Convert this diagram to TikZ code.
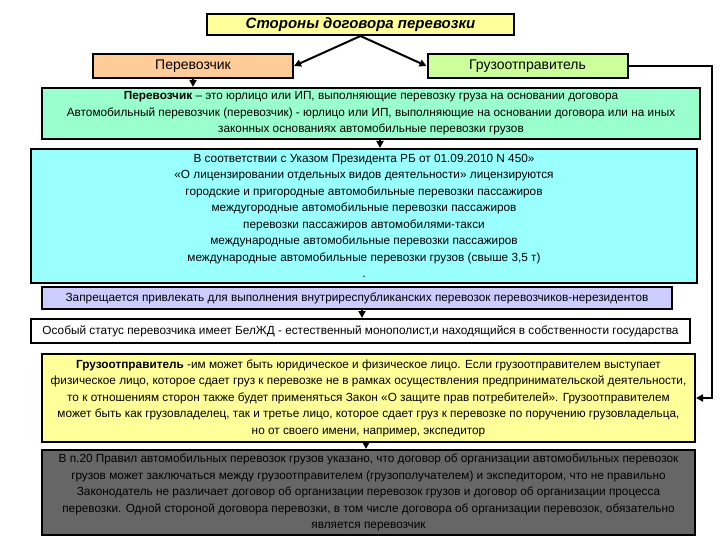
\documentclass[tikz,border=0pt]{standalone}
\usepackage{fontspec}
\setmainfont{Liberation Sans}
\usepackage{xcolor}
\usetikzlibrary{arrows.meta,positioning}
\definecolor{TitleYellow}{RGB}{255,255,153}
\definecolor{CarrierPeach}{RGB}{255,204,153}
\definecolor{ShipperGreen}{RGB}{204,255,153}
\definecolor{DefAqua}{RGB}{153,255,204}
\definecolor{LicCyan}{RGB}{153,255,255}
\definecolor{BanLilac}{RGB}{204,204,255}
\definecolor{NoteGray}{RGB}{102,102,102}

\begin{document}
\begin{tikzpicture}[x=1pt, y=-1pt,
  box/.style  ={rectangle, draw=black, line width=2pt, align=center, text=black,
                inner sep=0pt, font=\fontsize{11.8}{16.5}\selectfont},
  head/.style ={box, fill=TitleYellow, font=\fontsize{15}{17}\selectfont\bfseries\itshape},
  party/.style={box, minimum width=200pt, minimum height=24pt,
                font=\fontsize{14}{16}\selectfont},
  arr/.style  ={-{Triangle[length=7pt,width=7pt]}, line width=2pt, black}
]
\useasboundingbox (0,0) rectangle (720,540);

\node[head, minimum width=307pt, minimum height=21pt] (title) at (360.5,24.5)
     {Стороны договора перевозки};
\node[party, fill=CarrierPeach] (carrier) at (193,66) {Перевозчик};
\node[party, fill=ShipperGreen] (shipper) at (527.5,66) {Грузоотправитель};

\node[box, fill=DefAqua, minimum width=658pt, minimum height=51pt] (def) at (371,113.5)
     {\textbf{Перевозчик} – это юрлицо или ИП, выполняющие перевозку груза на основании договора\\
      Автомобильный перевозчик (перевозчик) - юрлицо или ИП, выполняющие на основании договора или на иных\\
      законных основаниях автомобильные перевозки грузов};

\node[box, fill=LicCyan, minimum width=666pt, minimum height=134pt] (lic) at (364,216)
     {В соответствии с Указом Президента РБ от 01.09.2010 N 450»\\
      «О лицензировании отдельных видов деятельности» лицензируются\\
      городские и пригородные автомобильные перевозки пассажиров\\
      междугородные автомобильные перевозки пассажиров\\
      перевозки пассажиров автомобилями-такси\\
      международные автомобильные перевозки пассажиров\\
      международные автомобильные перевозки грузов (свыше 3,5 т)\\
      .};

\node[box, fill=BanLilac, minimum width=630pt, minimum height=22pt] (ban) at (357,298)
     {Запрещается привлекать для выполнения внутриреспубликанских перевозок перевозчиков-нерезидентов};

\node[box, fill=white, minimum width=659pt, minimum height=24pt] (rail) at (360.5,331)
     {Особый статус перевозчика имеет БелЖД - естественный монополист,и находящийся в собственности государства};

\node[box, fill=TitleYellow, minimum width=653pt, minimum height=88pt] (sender) at (368.5,398)
     {\textbf{Грузоотправитель} -им может быть юридическое и физическое лицо. Если грузоотправителем выступает\\
      физическое лицо, которое сдает груз к перевозке не в рамках осуществления предпринимательской деятельности,\\
      то к отношениям сторон также будет применяться Закон «О защите прав потребителей». Грузоотправителем\\
      может быть как грузовладелец, так и третье лицо,  которое сдает груз к перевозке по поручению грузовладельца,\\
      но от своего имени, например, экспедитор};

\node[box, fill=NoteGray, minimum width=653pt, minimum height=85pt] (note) at (368.5,492.5)
     {В п.20 Правил автомобильных перевозок грузов указано, что договор об организации автомобильных перевозок\\
      грузов может заключаться между грузоотправителем (грузополучателем) и экспедитором, что не правильно\\
      Законодатель не различает договор об организации перевозок грузов и договор об организации процесса\\
      перевозки. Одной стороной договора перевозки, в том числе договора об организации перевозок, обязательно\\
      является перевозчик};

\draw[arr] (title.south) -- (carrier.east);
\draw[arr] (title.south) -- (shipper.west);
\draw[arr] (carrier.south) -- (carrier.south |- def.north);
\draw[arr] ([xshift=9pt]def.south) -- ([xshift=16pt]lic.north);
\draw[arr] ([xshift=5pt]ban.south) -- ([xshift=1.5pt]rail.north);
\draw[arr] ([xshift=-2.5pt]sender.south) -- ([xshift=-2.5pt]note.north);

% shipper goes round to its own box
\coordinate (bend) at (712,66);
\draw[arr] (shipper.east) -- (bend) -- (bend |- sender.east) -- (sender.east);
\end{tikzpicture}
\end{document}
